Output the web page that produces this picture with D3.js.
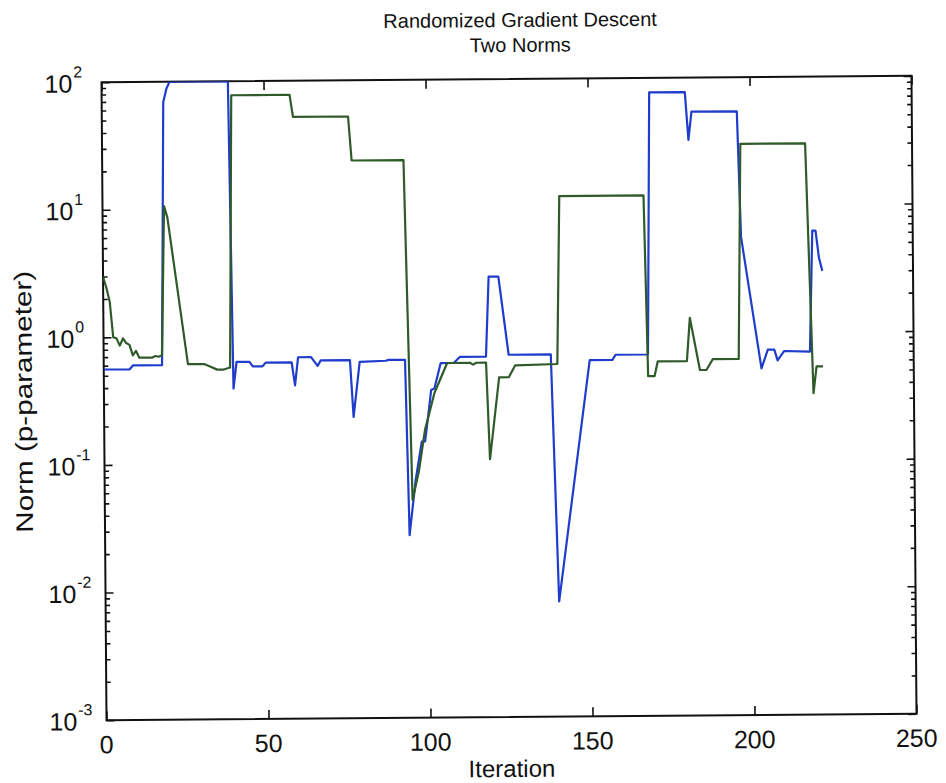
<!DOCTYPE html>
<html>
<head>
<meta charset="utf-8">
<script src="https://cdn.jsdelivr.net/npm/d3@7"></script>
<style>
  body { margin: 0; background: #fff; }
  text { font-family: "Liberation Sans", Arial, Helvetica, sans-serif; fill: #111; }
</style>
</head>
<body>
<div id="chart"></div>
<script>
// Iteration / norm values (breakpoints of each trace)
var blueIter = [0, 8, 9, 18, 19, 20, 21, 39, 40, 41, 45, 46, 49, 50, 58, 59, 60, 64, 66, 67,
  76, 77, 79, 87, 88, 93, 94, 96, 98, 99, 100, 101, 102, 104, 108, 110, 118, 119, 122, 125,
  138, 140, 150, 157, 158, 168, 169, 180, 181, 182, 196, 197, 203, 205, 207, 208, 210, 218,
  219, 220, 221, 222];
var blueNorm = [0.56, 0.56, 0.60, 0.60, 69, 88, 100, 100, 0.39, 0.63, 0.63, 0.58, 0.58, 0.62, 0.62, 0.41, 0.68, 0.68, 0.58, 0.64,
  0.64, 0.23, 0.62, 0.63, 0.64, 0.64, 0.027, 0.073, 0.146, 0.146, 0.23, 0.37, 0.38, 0.6, 0.6, 0.67, 0.67, 2.83, 2.83, 0.69,
  0.69, 0.008, 0.62, 0.62, 0.68, 0.68, 77, 77, 32.5, 54, 54, 5.6, 0.52, 0.73, 0.73, 0.6, 0.71, 0.70,
  6.2, 6.2, 3.8, 3.0];

var greenIter = [0, 1, 2, 3, 4, 5, 6, 7, 8, 9, 10, 11, 15, 16, 17, 18, 19, 20, 26, 31,
  33, 35, 37, 39, 40, 58, 59, 76, 77, 93, 95, 97, 99, 102, 106, 113, 114, 115, 118, 119,
  122, 125, 127, 140, 141, 167, 168, 170, 171, 180, 181, 184, 186, 188, 196, 197, 217, 219,
  220, 222];
var greenNorm = [2.98, 2.45, 1.9, 1.0, 0.98, 0.86, 0.98, 0.90, 0.87, 0.72, 0.78, 0.69, 0.69, 0.71, 0.70, 0.72, 10.6, 8.6, 0.61, 0.61,
  0.58, 0.55, 0.55, 0.57, 77.6, 77.6, 52, 52, 23.5, 23.5, 0.051, 0.085, 0.18, 0.35, 0.6, 0.6, 0.58, 0.6, 0.6, 0.105,
  0.46, 0.46, 0.57, 0.58, 12.0, 12.0, 0.46, 0.46, 0.6, 0.6, 1.31, 0.51, 0.51, 0.62, 0.62, 30, 30, 0.33,
  0.535, 0.535];

var xTicks = [0, 50, 100, 150, 200, 250];
var yExponents = [2, 1, 0, -1, -2, -3];

// Figure layout
var W = 946, H = 783;
var margin = {top: 79, left: 104},
    width = 810,
    height = 638;

var svg = d3.select("#chart").append("svg")
    .attr("width", W)
    .attr("height", H);

// the scanned page is tilted a little
var root = svg.append("g")
    .attr("transform", "rotate(-0.45," + (margin.left + width / 2) + "," + (margin.top + height / 2) + ")");

var g = root.append("g")
    .attr("transform", "translate(" + margin.left + "," + margin.top + ")");

var x = d3.scaleLinear().domain([0, 250]).range([0, width]);
var y = d3.scaleLog().domain([1e-3, 1e2]).range([height, 0]);

var decades = yExponents.map(function(e) { return Math.pow(10, e); });
var minors = [];
decades.slice(1).forEach(function(d) {
  for (var k = 2; k <= 9; k++) minors.push(d * k);
});

// ticks (inward, on all four sides)
function styleAxis(sel) {
  sel.select(".domain").remove();
  sel.selectAll(".tick line").attr("stroke", "#111").attr("stroke-width", 1.6);
}

g.append("g").attr("transform", "translate(0," + height + ")")
  .call(d3.axisBottom(x).tickValues(xTicks).tickSize(-9).tickSizeOuter(0).tickFormat(""))
  .call(styleAxis);
g.append("g")
  .call(d3.axisTop(x).tickValues(xTicks).tickSize(-9).tickSizeOuter(0).tickFormat(""))
  .call(styleAxis);
g.append("g")
  .call(d3.axisLeft(y).tickValues(decades).tickSize(-8).tickSizeOuter(0).tickFormat(""))
  .call(styleAxis);
g.append("g")
  .call(d3.axisLeft(y).tickValues(minors).tickSize(-4.5).tickSizeOuter(0).tickFormat(""))
  .call(styleAxis);
g.append("g").attr("transform", "translate(" + width + ",0)")
  .call(d3.axisRight(y).tickValues(decades).tickSize(-8).tickSizeOuter(0).tickFormat(""))
  .call(styleAxis);
g.append("g").attr("transform", "translate(" + width + ",0)")
  .call(d3.axisRight(y).tickValues(minors).tickSize(-4.5).tickSizeOuter(0).tickFormat(""))
  .call(styleAxis);

// box
g.append("rect")
  .attr("width", width)
  .attr("height", height)
  .attr("fill", "none")
  .attr("stroke", "#111")
  .attr("stroke-width", 2);

// clip to plot area
g.append("clipPath").attr("id", "clip")
  .append("rect").attr("width", width).attr("height", height);

var line = d3.line()
    .x(function(d) { return x(d[0]); })
    .y(function(d) { return y(d[1]); });

var blue = d3.zip(blueIter, blueNorm);
var green = d3.zip(greenIter, greenNorm);

g.append("path")
  .datum(blue)
  .attr("clip-path", "url(#clip)")
  .attr("fill", "none")
  .attr("stroke", "#1f3ccc")
  .attr("stroke-width", 2.2)
  .attr("stroke-linejoin", "round")
  .attr("d", line);

g.append("path")
  .datum(green)
  .attr("clip-path", "url(#clip)")
  .attr("fill", "none")
  .attr("stroke", "#2f5a2a")
  .attr("stroke-width", 2.2)
  .attr("stroke-linejoin", "round")
  .attr("d", line);

// x tick labels
g.selectAll(".xlab")
  .data(xTicks)
  .enter().append("text")
  .attr("class", "xlab")
  .attr("x", function(d) { return x(d); })
  .attr("y", height + 33)
  .attr("text-anchor", "middle")
  .style("font-size", "25px")
  .text(function(d) { return d; });

// y tick labels 10^n
var ylab = g.selectAll(".ylab")
  .data(yExponents)
  .enter().append("text")
  .attr("class", "ylab")
  .attr("x", -57)
  .attr("y", function(e) { return y(Math.pow(10, e)) + 10; })
  .style("font-size", "25px");
ylab.append("tspan").text("10");
ylab.append("tspan")
  .attr("dx", 1)
  .attr("dy", -15)
  .style("font-size", "16px")
  .text(function(e) { return e < 0 ? "-" + (-e) : e; });

// axis titles
g.append("text")
  .attr("x", width / 2)
  .attr("y", height + 60)
  .attr("text-anchor", "middle")
  .style("font-size", "24px")
  .text("Iteration");

g.append("text")
  .attr("transform", "rotate(-90)")
  .attr("x", -height / 2)
  .attr("y", -72)
  .attr("text-anchor", "middle")
  .attr("textLength", 262)
  .attr("lengthAdjust", "spacingAndGlyphs")
  .style("font-size", "24px")
  .text("Norm (p-parameter)");

// title
g.append("text")
  .attr("x", width / 2 + 14)
  .attr("y", -52)
  .attr("text-anchor", "middle")
  .style("font-size", "20px")
  .text("Randomized Gradient Descent");
g.append("text")
  .attr("x", width / 2 + 14)
  .attr("y", -27)
  .attr("text-anchor", "middle")
  .style("font-size", "20px")
  .text("Two Norms");
</script>
</body>
</html>
